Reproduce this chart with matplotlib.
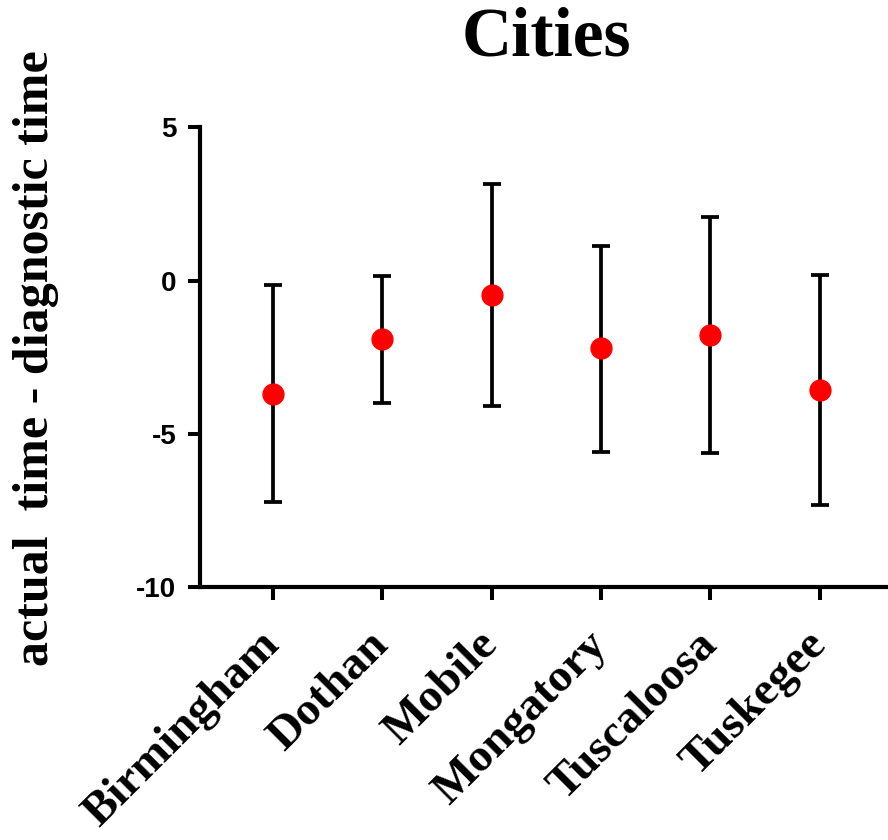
#!/usr/bin/env python3

import matplotlib
matplotlib.use('Agg')
import matplotlib.pyplot as plt
import numpy as np

cities = ['Birmingham', 'Dothan', 'Mobile', 'Mongatory', 'Tuscaloosa', 'Tuskegee']
means = [-3.69, -1.92, -0.48, -2.21, -1.78, -3.57]
upper = [-0.16, 0.14, 3.15, 1.12, 2.06, 0.17]
lower = [-7.24, -4.01, -4.09, -5.59, -5.63, -7.31]
yticks = [5, 0, -5, -10]

means = np.array(means)
err = [means - np.array(lower), np.array(upper) - means]
x = np.arange(len(cities))

fig = plt.figure(figsize=(8.88, 8.4), dpi=100)
ax = fig.add_axes([0.2252, 0.3012, 0.78, 0.5473])

ax.errorbar(x, means, yerr=err, fmt='o', color='red', markersize=15,
            ecolor='black', elinewidth=2.7, capsize=6.5, capthick=2.7, zorder=3)

ax.set_xlim(-0.664, 5.664)
ax.set_ylim(-10, 5)
ax.set_yticks(yticks)
ax.set_xticks(x)

for side in ['top', 'right']:
    ax.spines[side].set_visible(False)
for side in ['left', 'bottom']:
    ax.spines[side].set_linewidth(3.0)

ax.tick_params(axis='both', length=9, width=2.9, direction='out')
ax.tick_params(axis='y', pad=8)

ax.set_yticklabels([str(t) for t in yticks], fontfamily='Liberation Sans',
                   fontweight='bold', fontsize=20)
ax.set_xticklabels(cities, fontfamily='Liberation Serif', fontweight='bold',
                   fontsize=34, rotation=45, ha='right', va='center',
                   rotation_mode='anchor')
ax.tick_params(axis='x', pad=28)

ax.set_title('Cities', fontfamily='Liberation Serif', fontweight='bold',
             fontsize=50, pad=52)
fig.text(0.040, 0.574, 'actual  time - diagnostic time', rotation=90,
         fontfamily='Liberation Serif', fontweight='bold', fontsize=36,
         ha='center', va='center')

fig.savefig('out.png', dpi=100)
